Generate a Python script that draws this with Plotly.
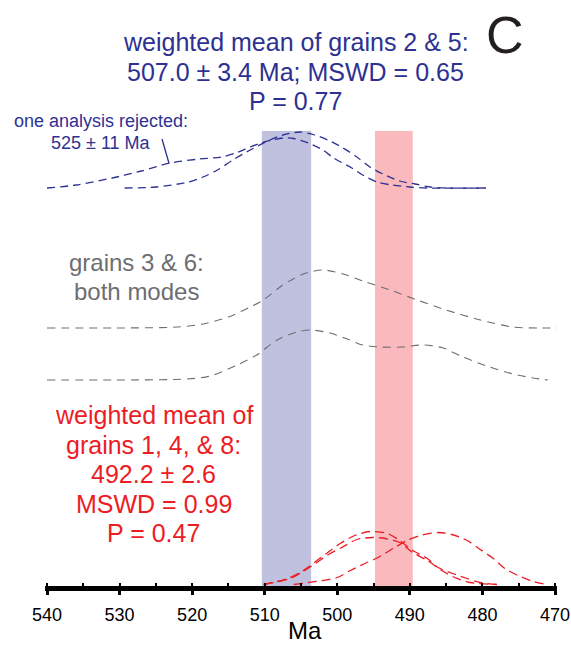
import plotly.graph_objects as go

# ---- age axis -------------------------------------------------------------
age_ticks = [540, 530, 520, 510, 500, 490, 480, 470]
age_tick_text = [str(t) for t in age_ticks]

# ---- weighted means (Ma, +/- Ma) ------------------------------------------
wm_grains_2_5 = (507.0, 3.4)
mswd_2_5, p_2_5 = 0.65, 0.77
wm_grains_1_4_8 = (492.2, 2.6)
mswd_1_4_8, p_1_4_8 = 0.99, 0.47
rejected_age = (525, 11)

# ---- probability curves: age (Ma) and relative probability ----------------
# grains 2 & 5
g2_age = [540, 536, 531, 527, 523, 519, 516, 514, 512, 510.5, 509, 507.5, 506,
          504, 502, 500.5, 498, 496.5, 494.5, 492.5, 490, 487.5, 479.5]
g2_prob = [0, 3, 10, 17, 25, 29, 31, 35, 41, 45, 48, 50, 49.5,
           45, 38, 30, 20, 13, 6, 3, 1, 0, 0]
g5_age = [529.3, 525, 520.5, 518.5, 516.5, 514.4, 512, 509.3, 507.5, 505.1, 503.1,
          501.3, 499.2, 497.3, 495.5, 493.7, 491.4, 489.3, 487.2, 484.9, 479.6]
g5_prob = [0, 1, 6, 11, 18, 28, 38, 48, 53, 56, 53,
           48, 40, 31, 21, 14, 7, 4, 1, 0, 0]

# grains 3 & 6 (both modes)
g3_age = [540, 531, 522, 518.5, 515, 512, 510.2, 507.5, 504.7, 502, 499.2,
          496.5, 492.7, 489, 485, 480.3, 475.8, 472, 469.7]
g3_prob = [0, 0, 1, 4, 11, 21, 28, 43, 54, 58, 54,
           47, 38, 28, 18, 8, 1, 0, 0]
g6_age = [540, 531, 520.7, 517.5, 513.8, 511.1, 508.3, 505.6, 503.8, 501, 498.3,
          496.5, 494.1, 491, 488.2, 485.4, 482.7, 479, 475.8, 473, 471]
g6_prob = [0, 0, 1, 4, 15, 25, 40, 48, 50, 47, 40,
           35, 33, 33, 35, 32, 23, 13, 6, 2, 0]

# grains 1, 4 & 8
g1_age = [510.2, 508.3, 506.5, 504.7, 502.8, 501.3, 499.6, 497.6, 495.5, 493.1,
          491.6, 489.6, 487.6, 486.1, 484.1, 482.1, 480.3, 478]
g1_prob = [0, 3, 7, 14, 24, 32, 41, 49, 53, 51,
           45, 34, 26, 17, 11, 6, 2, 0]
g4_age = [510, 506.5, 504.7, 502.8, 501.2, 499.4, 497.3, 495.2, 493.4, 491.4,
          489.6, 487.6, 485.6, 483.8, 481.7, 478]
g4_prob = [0, 6, 13, 22, 30, 37, 45, 47, 46, 42,
           32, 24, 14, 7, 2, 0]
g8_age = [506, 502, 500, 498.2, 496.2, 494.4, 492.3, 490.4, 488.6, 486.1,
          484.2, 482.1, 480.3, 478.5, 476.9, 475.1, 473, 471.1]
g8_prob = [0, 4, 7, 14, 21, 27, 36, 44, 49, 52,
           50, 44, 35, 26, 16, 9, 3, 0]

# ---- styling ---------------------------------------------------------------
NAVY = "#2e3192"
GREY = "#6d6e71"
RED = "#ed1c24"
BAND_BLUE = "#c0c1de"
BAND_RED = "#f9b9bd"
FONT = "Liberation Sans, Arial, Helvetica, sans-serif"

# vertical stacking of the curve groups (plot units)
OFFSET_2_5 = 398
OFFSET_3 = 258
OFFSET_6 = 206
OFFSET_1_4_8 = 1.5
BAND_TOP = 455
Y_MAX = 586

fig = go.Figure()


def add_curve(age, prob, offset, color, dash, width):
    fig.add_trace(go.Scatter(
        x=age, y=[p + offset for p in prob], mode="lines",
        line=dict(color=color, dash=dash, width=width, shape="spline", smoothing=0.8),
        hoverinfo="skip", showlegend=False))


# weighted-mean bands
for (mean, err), col in ((wm_grains_2_5, BAND_BLUE), (wm_grains_1_4_8, BAND_RED)):
    fig.add_shape(type="rect", xref="x", yref="y", x0=mean + err, x1=mean - err,
                  y0=0, y1=BAND_TOP, fillcolor=col, line=dict(width=0), layer="below")

add_curve(g2_age, g2_prob, OFFSET_2_5, NAVY, "8px,5px", 1.3)
add_curve(g5_age, g5_prob, OFFSET_2_5, NAVY, "8px,5px", 1.3)
add_curve(g3_age, g3_prob, OFFSET_3, GREY, "8px,6px", 1.1)
add_curve(g6_age, g6_prob, OFFSET_6, GREY, "8px,6px", 1.1)
add_curve(g1_age, g1_prob, OFFSET_1_4_8, RED, "9px,5px", 1.3)
add_curve(g4_age, g4_prob, OFFSET_1_4_8, RED, "9px,5px", 1.3)
add_curve(g8_age, g8_prob, OFFSET_1_4_8, RED, "9px,5px", 1.3)

# leader to the rejected analysis
fig.add_shape(type="line", xref="x", yref="y", x0=524.15, y0=447, x1=523.2, y1=423,
              line=dict(color=NAVY, width=1.3))


def label(text, x, y, size, color, xref="x", yref="y"):
    fig.add_annotation(text=text, x=x, y=y, xref=xref, yref=yref, showarrow=False,
                       xanchor="center", yanchor="middle",
                       font=dict(family=FONT, size=size, color=color))


# title for grains 2 & 5
m, e = wm_grains_2_5
label("weighted mean of grains 2 &amp; 5:", 505.7, Y_MAX - 42, 25, NAVY)
label(f"{m:.1f} ± {e:.1f} Ma; MSWD = {mswd_2_5:.2f}", 505.7, Y_MAX - 71.5, 25, NAVY)
label(f"P = {p_2_5:.2f}", 505.7, Y_MAX - 101, 25, NAVY)

label("one analysis rejected:", 532.6, Y_MAX - 121, 18, NAVY)
label(f"{rejected_age[0]} ± {rejected_age[1]} Ma", 532.6, Y_MAX - 143, 18, NAVY)

label("grains 3 &amp; 6:", 527.6, Y_MAX - 262, 24, GREY)
label("both modes", 527.6, Y_MAX - 291, 24, GREY)

m, e = wm_grains_1_4_8
red_lines = ["weighted mean of", "grains 1, 4, &amp; 8:", f"{m:.1f} ± {e:.1f}",
             f"MSWD = {mswd_1_4_8:.2f}", f"P = {p_1_4_8:.2f}"]
for i, txt in enumerate(red_lines):
    label(txt, 525.3, Y_MAX - (415 + 29.5 * i), 25, RED)

label("C", 476.9, Y_MAX - 35, 52, "#231f20")
# axis title placed below the tick labels
label("Ma", 504.4, (Y_MAX - 630) / Y_MAX, 24, "#000000", yref="paper")

fig.update_layout(
    width=571, height=645,
    margin=dict(l=45, r=14, t=0, b=59),
    paper_bgcolor="white", plot_bgcolor="white",
    showlegend=False,
    xaxis=dict(
        range=[540.276, 469.724], tickvals=age_ticks, ticktext=age_tick_text,
        showline=True, linewidth=5, linecolor="black", mirror=False,
        ticks="outside", ticklen=4, tickwidth=2.5, tickcolor="black",
        ticklabelstandoff=4,
        minor=dict(dtick=5, ticks="inside", ticklen=3, tickwidth=2, tickcolor="black",
                   showgrid=False),
        showgrid=False, zeroline=False, fixedrange=True,
        tickfont=dict(family=FONT, size=18, color="black"),
    ),
    yaxis=dict(range=[0, Y_MAX], visible=False, fixedrange=True),
)

fig.write_html("out.html")
